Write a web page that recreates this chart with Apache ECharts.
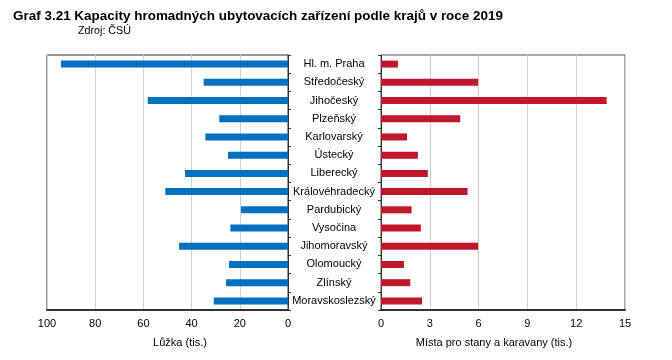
<!DOCTYPE html>
<html><head><meta charset="utf-8">
<script src="https://cdn.jsdelivr.net/npm/echarts@6/dist/echarts.min.js"></script>
<style>html,body{margin:0;padding:0;background:#fff}#c{width:672px;height:360px}</style>
</head><body><div id="c"></div>
<script>
var categories = ["Hl. m. Praha","Středočeský","Jihočeský","Plzeňský","Karlovarský","Ústecký","Liberecký","Královéhradecký","Pardubický","Vysočina","Jihomoravský","Olomoucký","Zlínský","Moravskoslezský"];
var beds = [94.2,35.0,58.2,28.5,34.3,24.9,42.7,50.9,19.5,23.9,45.2,24.5,25.7,30.8];
var campPlaces = [1.04,5.97,13.87,4.87,1.6,2.27,2.88,5.32,1.88,2.45,5.97,1.41,1.8,2.52];
var bedTicks = [0,20,40,60,80,100];
var campTicks = [0,3,6,9,12,15];
var titleText = 'Graf 3.21 Kapacity hromadných ubytovacích zařízení podle krajů v roce 2019';
var sourceText = 'Zdroj: ČSÚ';

var font = '"Liberation Sans", Arial, sans-serif';
function textWidth(t, f){
  var cv = document.createElement('canvas').getContext('2d');
  cv.font = f; return cv.measureText(t).width;
}
var titleFont = 'bold 13px ' + font;
var srcFont = '11px ' + font;
var titleScale = 490 / textWidth(titleText, titleFont);
var srcScale = 53 / textWidth(sourceText, srcFont);

var chart = echarts.init(document.getElementById('c'), null, {renderer:'canvas'});
chart.setOption({
  animation:false,
  grid:[
    {left:47, width:241, top:55, height:255, show:true, borderColor:'#333', borderWidth:1},
    {left:381, width:244, top:55, height:255, show:true, borderColor:'#555', borderWidth:1}
  ],
  xAxis:[
    {gridIndex:0, type:'value', inverse:true, min:bedTicks[0], max:bedTicks[bedTicks.length-1], interval:20,
     axisLine:{show:true, lineStyle:{color:'#333', width:2}}, axisTick:{show:false},
     axisLabel:{color:'#000', fontFamily:font, fontSize:11, margin:8},
     splitLine:{show:true, lineStyle:{color:'#d0d0d0', width:1}}},
    {gridIndex:1, type:'value', min:campTicks[0], max:campTicks[campTicks.length-1], interval:3,
     axisLine:{show:true, lineStyle:{color:'#333', width:2}}, axisTick:{show:false},
     axisLabel:{color:'#000', fontFamily:font, fontSize:11, margin:8},
     splitLine:{show:true, lineStyle:{color:'#d0d0d0', width:1}}}
  ],
  yAxis:[
    {gridIndex:0, type:'category', data:categories, inverse:true, position:'right',
     axisLine:{show:true, lineStyle:{color:'#333', width:1}},
     axisTick:{show:true, inside:false, length:3, lineStyle:{color:'#333'}},
     axisLabel:{show:false}},
    {gridIndex:1, type:'category', data:categories, inverse:true, position:'left',
     axisLine:{show:true, lineStyle:{color:'#333', width:1}},
     axisTick:{show:true, inside:false, length:3, lineStyle:{color:'#333'}},
     axisLabel:{show:true, color:'#000', fontFamily:font, fontSize:11, align:'center', margin:47}}
  ],
  series:[
    {type:'bar', xAxisIndex:0, yAxisIndex:0, data:beds, barWidth:7, itemStyle:{color:'#0070C0'}},
    {type:'bar', xAxisIndex:1, yAxisIndex:1, data:campPlaces, barWidth:7, itemStyle:{color:'#C0182A'}}
  ],
  graphic:[
    {type:'text', x:13, y:16, scaleX:titleScale, style:{text:titleText, font:titleFont, fill:'#000', align:'left', verticalAlign:'middle'}},
    {type:'text', x:78, y:31, scaleX:srcScale, style:{text:sourceText, font:srcFont, fill:'#000', align:'left', verticalAlign:'middle'}},
    {type:'text', x:180, y:343, style:{text:'Lůžka (tis.)', font:'11px '+font, fill:'#000', align:'center', verticalAlign:'middle'}},
    {type:'text', x:494, y:343, style:{text:'Místa pro stany a karavany (tis.)', font:'11px '+font, fill:'#000', align:'center', verticalAlign:'middle'}}
  ]
});
</script></body></html>
